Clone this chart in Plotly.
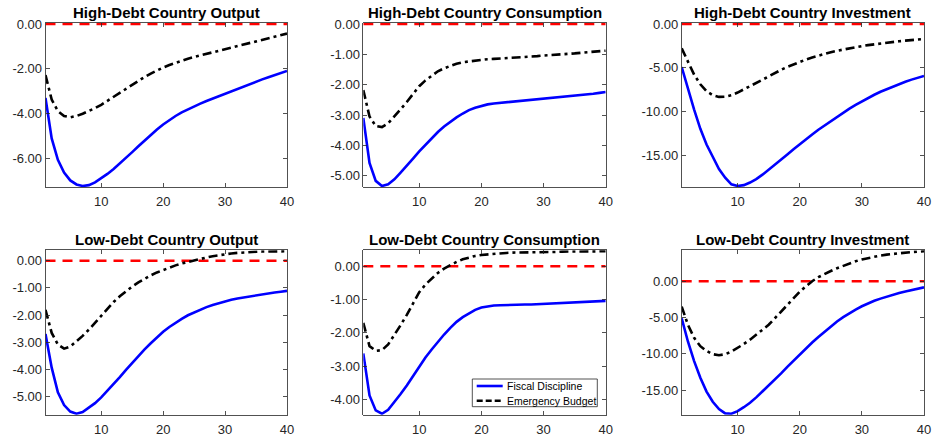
import plotly.graph_objects as go

quarters = list(range(1, 41))
steady_state_x = [1, 40]
steady_state_y = [0.0, 0.0]

panel_titles = [
    "High-Debt Country Output", "High-Debt Country Consumption", "High-Debt Country Investment",
    "Low-Debt Country Output", "Low-Debt Country Consumption", "Low-Debt Country Investment",
]
series_names = ["Fiscal Discipline", "Emergency Budget"]

hi_output_fd = [-3.30, -5.10, -6.05, -6.62, -6.97, -7.15, -7.22, -7.18, -7.06, -6.88,
                -6.68, -6.46, -6.22, -5.97, -5.71, -5.45, -5.19, -4.94, -4.70, -4.48,
                -4.28, -4.10, -3.94, -3.80, -3.67, -3.55, -3.43, -3.32, -3.21, -3.10,
                -2.99, -2.88, -2.78, -2.67, -2.57, -2.47, -2.37, -2.27, -2.18, -2.09]
hi_output_eb = [-2.28, -3.37, -3.88, -4.10, -4.16, -4.10, -4.00, -3.88, -3.75, -3.60,
                -3.42, -3.24, -3.05, -2.87, -2.69, -2.52, -2.36, -2.21, -2.07, -1.94,
                -1.83, -1.73, -1.64, -1.55, -1.47, -1.40, -1.32, -1.25, -1.18, -1.11,
                -1.04, -0.98, -0.91, -0.85, -0.78, -0.71, -0.64, -0.57, -0.50, -0.43]

hi_cons_fd = [-3.10, -4.58, -5.17, -5.34, -5.28, -5.12, -4.90, -4.68, -4.44, -4.20,
              -3.98, -3.76, -3.56, -3.38, -3.22, -3.08, -2.95, -2.84, -2.76, -2.70,
              -2.65, -2.62, -2.60, -2.58, -2.56, -2.55, -2.53, -2.52, -2.50, -2.48,
              -2.46, -2.44, -2.42, -2.40, -2.38, -2.35, -2.33, -2.30, -2.27, -2.24]
hi_cons_eb = [-2.18, -3.05, -3.36, -3.40, -3.27, -3.05, -2.81, -2.57, -2.30, -2.05,
              -1.86, -1.70, -1.56, -1.46, -1.38, -1.31, -1.26, -1.23, -1.20, -1.18,
              -1.16, -1.15, -1.14, -1.13, -1.12, -1.11, -1.09, -1.08, -1.06, -1.04,
              -1.03, -1.01, -1.00, -0.98, -0.97, -0.95, -0.93, -0.92, -0.90, -0.88]

hi_inv_fd = [-4.94, -7.40, -9.80, -12.00, -13.80, -15.20, -16.60, -17.60, -18.35, -18.55,
             -18.45, -18.15, -17.75, -17.25, -16.70, -16.15, -15.55, -14.95, -14.35, -13.75,
             -13.20, -12.65, -12.10, -11.60, -11.10, -10.62, -10.15, -9.70, -9.27, -8.85,
             -8.47, -8.10, -7.76, -7.45, -7.15, -6.87, -6.61, -6.37, -6.15, -5.95]
hi_inv_eb = [-2.80, -4.40, -5.80, -6.90, -7.70, -8.15, -8.35, -8.32, -8.15, -7.85,
             -7.50, -7.15, -6.75, -6.38, -6.00, -5.60, -5.25, -4.92, -4.62, -4.33,
             -4.07, -3.83, -3.61, -3.41, -3.23, -3.07, -2.92, -2.78, -2.65, -2.53,
             -2.42, -2.32, -2.23, -2.14, -2.06, -1.98, -1.91, -1.84, -1.78, -1.72]

lo_output_fd = [-2.70, -3.94, -4.85, -5.32, -5.56, -5.64, -5.58, -5.43, -5.25, -5.04,
                -4.80, -4.55, -4.29, -4.02, -3.76, -3.51, -3.27, -3.04, -2.82, -2.62,
                -2.44, -2.28, -2.14, -2.01, -1.90, -1.80, -1.71, -1.63, -1.56, -1.50,
                -1.44, -1.39, -1.35, -1.31, -1.27, -1.23, -1.20, -1.17, -1.14, -1.11]
lo_output_eb = [-1.81, -2.66, -3.09, -3.24, -3.16, -2.98, -2.77, -2.54, -2.28, -2.02,
                -1.76, -1.52, -1.31, -1.12, -0.95, -0.80, -0.66, -0.54, -0.43, -0.34,
                -0.25, -0.17, -0.10, -0.04, 0.02, 0.07, 0.12, 0.17, 0.21, 0.24,
                0.27, 0.29, 0.31, 0.32, 0.33, 0.34, 0.34, 0.35, 0.35, 0.35]

lo_cons_fd = [-2.62, -3.88, -4.33, -4.43, -4.31, -4.08, -3.84, -3.58, -3.29, -2.99,
              -2.74, -2.50, -2.27, -2.05, -1.85, -1.67, -1.53, -1.41, -1.31, -1.24,
              -1.20, -1.18, -1.17, -1.16, -1.16, -1.15, -1.15, -1.15, -1.14, -1.14,
              -1.13, -1.13, -1.12, -1.11, -1.10, -1.09, -1.08, -1.07, -1.05, -1.04]
lo_cons_eb = [-1.70, -2.40, -2.54, -2.52, -2.35, -2.07, -1.77, -1.46, -1.10, -0.78,
              -0.55, -0.36, -0.20, -0.07, 0.04, 0.13, 0.21, 0.27, 0.31, 0.34,
              0.36, 0.38, 0.39, 0.40, 0.41, 0.41, 0.42, 0.42, 0.42, 0.43,
              0.43, 0.43, 0.44, 0.44, 0.44, 0.44, 0.45, 0.45, 0.45, 0.45]

lo_inv_fd = [-5.10, -8.30, -11.00, -13.30, -15.20, -16.60, -17.60, -18.20, -18.25, -17.90,
             -17.35, -16.75, -16.00, -15.20, -14.40, -13.60, -12.70, -11.80, -10.95, -10.10,
             -9.25, -8.45, -7.70, -7.00, -6.20, -5.55, -4.95, -4.40, -3.90, -3.45,
             -3.05, -2.70, -2.40, -2.12, -1.87, -1.64, -1.42, -1.22, -1.03, -0.85]
lo_inv_eb = [-3.50, -6.00, -7.80, -8.95, -9.60, -10.05, -10.20, -10.05, -9.70, -9.20,
             -8.65, -8.05, -7.40, -6.72, -6.00, -5.10, -4.20, -3.20, -2.30, -1.45,
             -0.70, 0.00, 0.55, 1.00, 1.40, 1.78, 2.12, 2.45, 2.75, 3.00,
             3.20, 3.38, 3.53, 3.66, 3.77, 3.86, 3.94, 4.01, 4.07, 4.12]

fd_series = [hi_output_fd, hi_cons_fd, hi_inv_fd, lo_output_fd, lo_cons_fd, lo_inv_fd]
eb_series = [hi_output_eb, hi_cons_eb, hi_inv_eb, lo_output_eb, lo_cons_eb, lo_inv_eb]

x_tick_vals = [10, 20, 30, 40]
x_tick_text = ["10", "20", "30", "40"]
y_tick_vals = [
    [-6, -4, -2, 0],
    [-5, -4, -3, -2, -1, 0],
    [-15, -10, -5, 0],
    [-5, -4, -3, -2, -1, 0],
    [-4, -3, -2, -1, 0],
    [-15, -10, -5, 0],
]
y_tick_text = [
    ["-6.00", "-4.00", "-2.00", "0.00"],
    ["-5.00", "-4.00", "-3.00", "-2.00", "-1.00", "0.00"],
    ["-15.00", "-10.00", "-5.00", "0.00"],
    ["-5.00", "-4.00", "-3.00", "-2.00", "-1.00", "0.00"],
    ["-4.00", "-3.00", "-2.00", "-1.00", "0.00"],
    ["-15.00", "-10.00", "-5.00", "0.00"],
]

W, H = 932, 436
col_px = [(45.5, 287.0), (363.3, 605.7), (681.7, 924.0)]
row_px = [(23.0, 187.0), (250.3, 414.7)]


def px(x):
    return x / W


def py(y):
    return 1 - y / H


FONT = "Liberation Sans, Arial, sans-serif"
AX = "#262626"

fig = go.Figure()
layout = dict(
    width=W, height=H,
    margin=dict(l=0, r=0, t=0, b=0, pad=0),
    paper_bgcolor="white", plot_bgcolor="white",
    font=dict(family=FONT, size=13, color=AX),
    showlegend=False,
)
annotations = []
shapes = []

for i in range(6):
    r, c = divmod(i, 3)
    idx = "" if i == 0 else str(i + 1)
    xa, ya = "x" + idx, "y" + idx
    x0, x1 = col_px[c]
    yt, yb = row_px[r]
    xdom = [px(x0), px(x1)]
    ydom = [py(yb), py(yt)]

    fig.add_trace(go.Scatter(x=steady_state_x, y=steady_state_y, mode="lines",
                             line=dict(color="#FF0000", width=2.6, dash="10px,7px"),
                             hoverinfo="skip", xaxis=xa, yaxis=ya))
    fig.add_trace(go.Scatter(x=quarters, y=fd_series[i], mode="lines", name=series_names[0],
                             line=dict(color="#0000FF", width=2.6), xaxis=xa, yaxis=ya))
    fig.add_trace(go.Scatter(x=quarters, y=eb_series[i], mode="lines", name=series_names[1],
                             line=dict(color="#000000", width=2.6, dash="9px,4px,3px,4px"),
                             xaxis=xa, yaxis=ya))

    all_vals = fd_series[i] + eb_series[i] + steady_state_y
    lo, hi = min(all_vals), max(all_vals)
    pad = (hi - lo) * 0.006
    common = dict(showline=True, mirror="ticks", linecolor=AX, linewidth=0.8,
                  ticks="inside", ticklen=4, tickwidth=0.8, tickcolor=AX,
                  showgrid=False, zeroline=False, automargin=False,
                  tickfont=dict(family=FONT, size=13, color=AX))
    layout["xaxis" + idx] = dict(domain=xdom, range=[1, 40], tickvals=x_tick_vals,
                                 ticktext=x_tick_text, anchor=ya, ticklabelstandoff=3,
                                 **common)
    layout["yaxis" + idx] = dict(domain=ydom, range=[lo - pad, hi + pad],
                                 tickvals=y_tick_vals[i], ticktext=y_tick_text[i],
                                 anchor=xa, ticklabelstandoff=0, **common)
    annotations.append(dict(text="<b>" + panel_titles[i] + "</b>", xref="paper", yref="paper",
                            x=(xdom[0] + xdom[1]) / 2, y=ydom[1], xanchor="center",
                            yanchor="bottom", showarrow=False, yshift=0,
                            font=dict(family=FONT, size=15, color="black")))

# legend box (drawn inside the Low-Debt Consumption panel)
shapes.append(dict(type="rect", xref="paper", yref="paper",
                   x0=px(472.3), x1=px(597.3), y0=py(406.7), y1=py(379.0),
                   line=dict(color=AX, width=0.8), fillcolor="white", layer="above"))
legend_rows = [386.0, 400.7]
legend_styles = [dict(color="#0000FF", width=2.6), dict(color="#000000", width=2.6, dash="6px,3px")]
for name, yrow, sty in zip(series_names, legend_rows, legend_styles):
    shapes.append(dict(type="line", xref="paper", yref="paper",
                       x0=px(476.7), x1=px(502.7), y0=py(yrow), y1=py(yrow),
                       line=sty, layer="above"))
    annotations.append(dict(text=name, xref="paper", yref="paper", x=px(504.5), y=py(yrow),
                            xanchor="left", yanchor="middle", showarrow=False,
                            font=dict(family=FONT, size=10.5, color="#000000")))

layout["annotations"] = annotations
layout["shapes"] = shapes
fig.update_layout(**layout)
fig.write_html("out.html",
               config={"displayModeBar": False, "staticPlot": True},
               post_script="document.body.style.margin='0px';document.body.style.overflow='hidden';")
